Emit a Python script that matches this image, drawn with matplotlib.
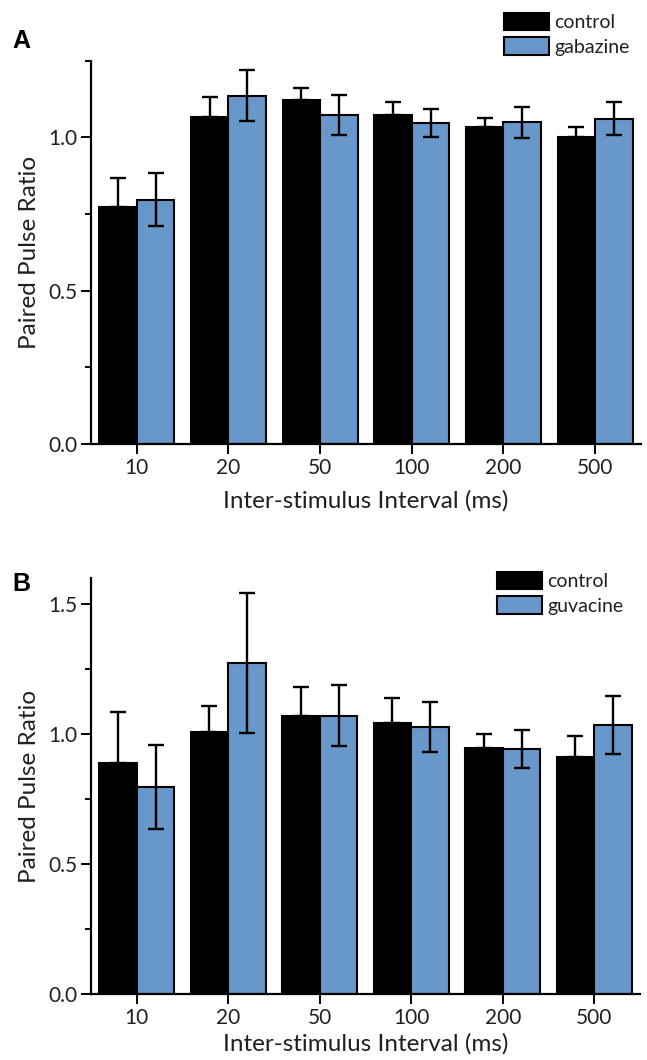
import matplotlib
matplotlib.use("Agg")
import matplotlib.pyplot as plt
from matplotlib.patches import Patch
from matplotlib.ticker import FixedLocator
import numpy as np

plt.rcParams['font.family'] = ['Lato', 'DejaVu Sans']

intervals = ["10", "20", "50", "100", "200", "500"]

# Panel A
a_control = [0.773, 1.066, 1.123, 1.073, 1.033, 1.002]
a_control_err = [0.094, 0.066, 0.038, 0.043, 0.029, 0.031]
a_gabazine = [0.797, 1.136, 1.074, 1.048, 1.049, 1.061]
a_gabazine_err = [0.087, 0.083, 0.065, 0.046, 0.050, 0.054]

# Panel B
b_control = [0.890, 1.009, 1.070, 1.041, 0.946, 0.911]
b_control_err = [0.195, 0.098, 0.111, 0.097, 0.054, 0.083]
b_guvacine = [0.796, 1.273, 1.070, 1.026, 0.943, 1.035]
b_guvacine_err = [0.163, 0.270, 0.118, 0.097, 0.073, 0.111]

BLUE = "#6897C9"
TXT = "#231F20"
W, H = 647, 1060
fig = plt.figure(figsize=(W / 100, H / 100), dpi=100)


def panel(rect, ctrl, ctrl_err, drug, drug_err, drug_name, ymax, major, minor,
          letter, letter_xy, leg_xy, xlabelpad):
    ax = fig.add_axes(rect)
    x = np.arange(len(intervals))
    w = 0.41
    ax.bar(x - w / 2, ctrl, w, color="black", edgecolor="black", linewidth=1.5, zorder=2)
    ax.bar(x + w / 2, drug, w, color=BLUE, edgecolor="black", linewidth=1.5, zorder=2)
    ax.errorbar(x - w / 2, ctrl, yerr=[np.zeros(len(ctrl)), ctrl_err], fmt="none",
                ecolor="black", elinewidth=1.7, capsize=6, capthick=1.7, zorder=3)
    ax.errorbar(x + w / 2, drug, yerr=drug_err, fmt="none",
                ecolor="black", elinewidth=1.7, capsize=6, capthick=1.7, zorder=3)
    ax.set_xlim(-0.5, 5.5)
    ax.set_ylim(0, ymax)
    ax.set_xticks(x)
    ax.set_xticklabels(intervals)
    ax.yaxis.set_major_locator(FixedLocator(major))
    ax.yaxis.set_minor_locator(FixedLocator(minor))
    ax.set_yticklabels([f"{v:.1f}" for v in major])
    for s in ("top", "right"):
        ax.spines[s].set_visible(False)
    for s in ("left", "bottom"):
        ax.spines[s].set_linewidth(1.6)
        ax.spines[s].set_color("black")
    ax.tick_params(axis="both", which="major", length=7, width=1.4, labelsize=15,
                   labelcolor=TXT, pad=3)
    ax.tick_params(axis="y", which="minor", length=4.5, width=1.4)
    ax.set_ylabel("Paired Pulse Ratio", fontsize=17.5, color=TXT, labelpad=6)
    ax.set_xlabel("Inter-stimulus Interval (ms)", fontsize=17.5, color=TXT, labelpad=xlabelpad)
    fig.text(letter_xy[0] / W, 1 - letter_xy[1] / H, letter, fontsize=18, fontweight="bold",
             family="Liberation Sans", ha="left", va="top", color="black")
    handles = [Patch(facecolor="black", edgecolor="black", linewidth=1.5),
               Patch(facecolor=BLUE, edgecolor="black", linewidth=1.5)]
    ax.legend(handles, ["control", drug_name], loc="upper left",
              bbox_to_anchor=(leg_xy[0] / W, 1 - leg_xy[1] / H),
              bbox_transform=fig.transFigure, frameon=False, fontsize=14,
              borderpad=0, borderaxespad=0, handlelength=2.3, handleheight=1.0,
              handletextpad=0.3, labelspacing=0.3, labelcolor=TXT)
    return ax


panel([91 / W, 1 - 444 / H, 550 / W, (444 - 60.7) / H],
      a_control, a_control_err, a_gabazine, a_gabazine_err, "gabazine",
      1.25, [0.0, 0.5, 1.0], [0.25, 0.75, 1.25], "A", (12, 29), (504, 13), 9)
panel([91 / W, 1 - 994 / H, 549 / W, (994 - 578) / H],
      b_control, b_control_err, b_guvacine, b_guvacine_err, "guvacine",
      1.6, [0.0, 0.5, 1.0, 1.5], [0.25, 0.75, 1.25], "B", (12, 572), (497, 572), 4)

fig.savefig("out.png", dpi=100)
